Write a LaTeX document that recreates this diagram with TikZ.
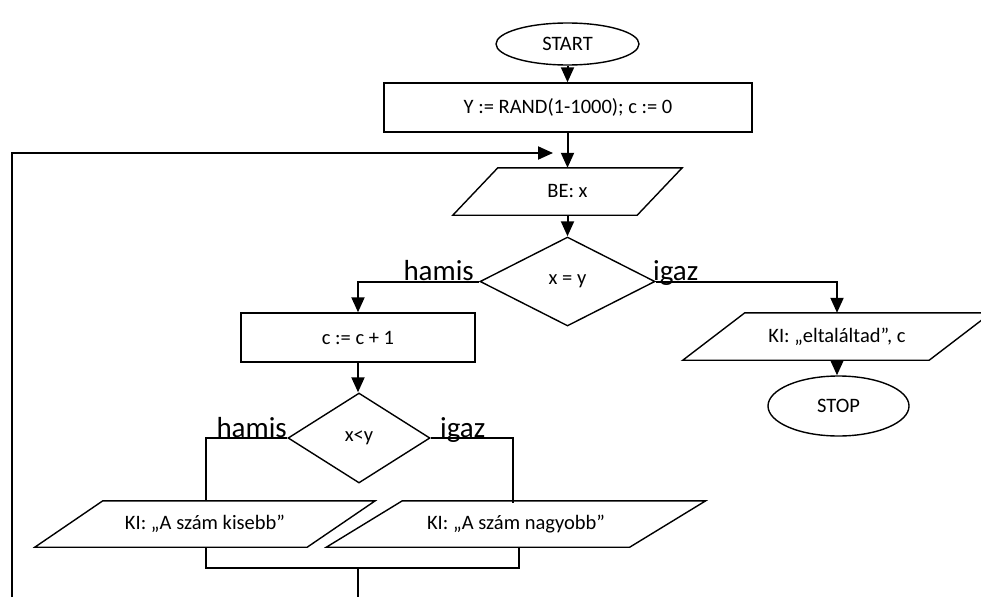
\documentclass[tikz,border=0pt]{standalone}
\usepackage{fontspec}
\setmainfont{Carlito}
\usetikzlibrary{shapes.geometric,arrows.meta,calc}

% parallelogram drawn around a (borderless) rectangle node; #2 = horizontal skew
\newcommand\ioshape[2]{%
  \draw[shape line] ($(#1.north west)+(#2/2,0)$) -- ($(#1.north east)+(#2/2,0)$)
    -- ($(#1.south east)-(#2/2,0)$) -- ($(#1.south west)-(#2/2,0)$) -- cycle;}

\begin{document}
\begin{tikzpicture}[x=1pt,y=-1pt,
  font=\fontsize{20.5}{24}\selectfont,
  shape line/.style={draw=black,line width=1.4pt},
  term/.style={ellipse,shape line,inner sep=0pt},
  proc/.style={rectangle,shape line,inner sep=0pt},
  dec/.style={diamond,shape line,inner sep=0pt},
  io/.style={rectangle,inner sep=0pt},
  flow/.style={line width=2pt,-{Triangle[width=13pt,length=15pt]}},
  link/.style={line width=1.3pt},
  branch/.style={font=\fontsize{29}{32}\selectfont,inner sep=0pt}
]
\useasboundingbox (0,0) rectangle (981,597);

% main column
\node[term,minimum width=143pt,minimum height=42pt] (start) at (567.5,44) {START};
\node[proc,minimum width=368pt,minimum height=49pt] (init) at (568,107.5) {Y := RAND(1-1000); c := 0};
\node[io,minimum width=184pt,minimum height=47pt] (inp) at (567.5,191.5) {BE: x};
\ioshape{inp}{45}
\node[dec,minimum width=175pt,minimum height=89pt] (d1) at (567.5,281.5) {x = y};

% "false" branch of x = y
\node[proc,minimum width=234pt,minimum height=49pt] (inc) at (358,337.5) {c := c + 1};
\node[dec,minimum width=142pt,minimum height=90pt] (d2) at (359,438) {x<y};
\node[io,minimum width=272pt,minimum height=46pt] (less) at (205,524) {KI: „A szám kisebb”};
\ioshape{less}{68}
\node[io,minimum width=303pt,minimum height=46pt] (more) at (516,524) {KI: „A szám nagyobb”};
\ioshape{more}{76}

% "true" branch of x = y
\node[io,minimum width=246pt,minimum height=47pt] (hit) at (837,336.5) {KI: „eltaláltad”, c};
\ioshape{hit}{62}
\node[term,minimum width=141pt,minimum height=60pt] (stop) at (838.5,406) {STOP};

% branch labels
\node[branch,anchor=base east] (h1) at (474,280) {hamis};
\node[branch,anchor=base west] (i1) at (653,280) {igaz};
\node[branch,anchor=base east] (h2) at (287,437) {hamis};
\node[branch,anchor=base west] (i2) at (440,437) {igaz};

% loop and merge points
\coordinate (loopfoot) at (12,597);
\coordinate (loopin) at (553,153);
\coordinate (join) at (358,568);
\coordinate (joinfoot) at (358,597);

% connectors
\draw[flow] (start.south) -- (start.south |- init.north);
\draw[flow] (inp.north |- init.south) -- (inp.north);
\draw[flow] (loopfoot) |- (loopin);
\draw[flow] (inp.south) -- (d1.north);
\draw[flow] (d1.west) -| (inc.north);
\draw[flow] (d1.east) -| (hit.north);
\draw[flow] (inc.south) -- (inc.south |- d2.north);
\draw[flow] (hit.south) -- (hit.south |- stop.north);

\draw[link] (d2.west) -| ([xshift=1pt]less.north);
\draw[link] (d2.east) -| ([xshift=-3pt,yshift=-2pt]more.north);
\draw[link] ([xshift=1pt]less.south) |- ([xshift=3pt]more.south |- join)
  -- ([xshift=3pt]more.south);
\draw[link] (join) -- (joinfoot);
\end{tikzpicture}
\end{document}
